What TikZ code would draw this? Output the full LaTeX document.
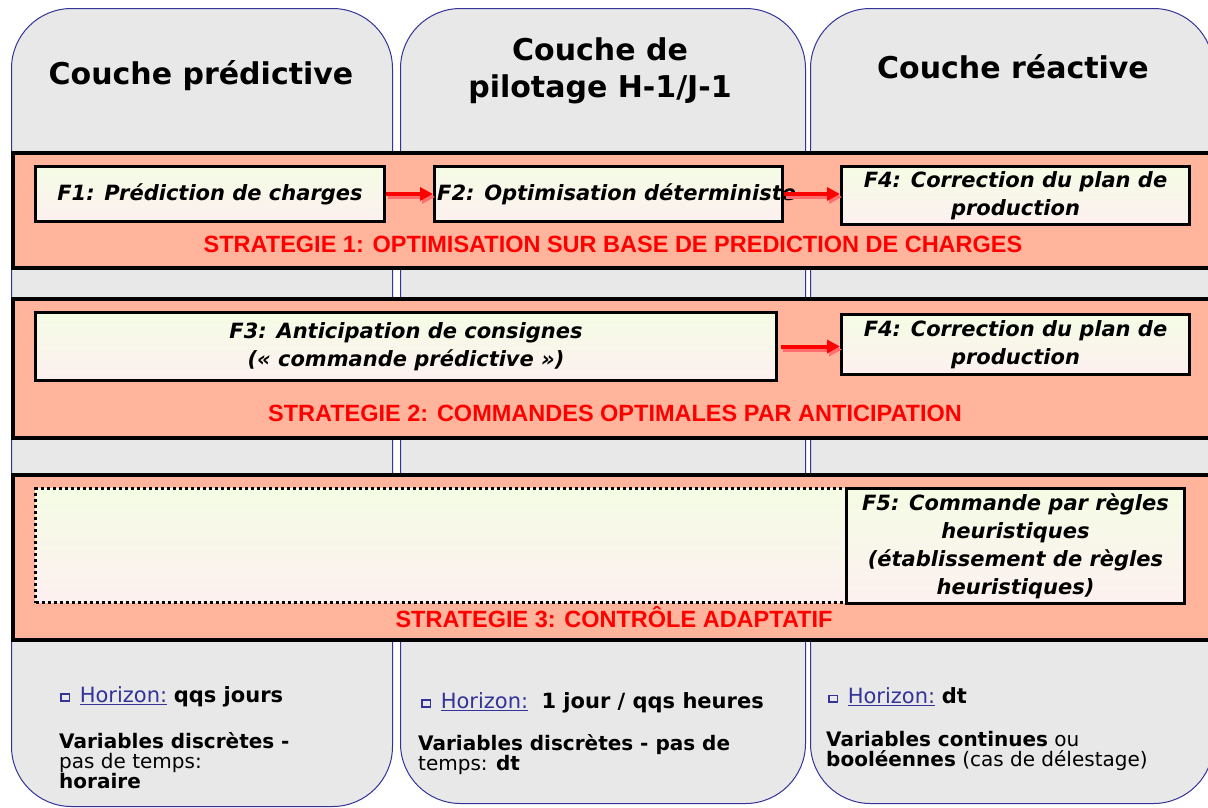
\documentclass[tikz,border=0pt]{standalone}
\usepackage{fontspec}
\setmainfont{DejaVu Sans}
\newfontfamily\stratfont{Liberation Sans}
\usetikzlibrary{arrows.meta}
\definecolor{colgray}{RGB}{232,232,232}
\definecolor{colblue}{RGB}{51,51,153}
\definecolor{bandfill}{RGB}{255,180,155}
\definecolor{boxtop}{RGB}{244,252,228}
\definecolor{boxbot}{RGB}{253,240,240}
\definecolor{arrowred}{RGB}{255,0,0}
\definecolor{arrowshadow}{RGB}{255,110,110}
\definecolor{stratred}{RGB}{255,0,0}
\tikzset{
  colbox/.style={draw=colblue, line width=1pt, fill=colgray, rounded corners=60pt, inner sep=0pt, anchor=north west},
  band/.style={draw=black, line width=4pt, fill=bandfill, inner sep=0pt, anchor=north west},
  fbox/.style={draw=black, line width=3pt, top color=boxtop, bottom color=boxbot, inner sep=0pt, anchor=north west},
  dotbox/.style={draw=black, line width=3pt, dash pattern=on 3pt off 3pt, top color=boxtop, bottom color=boxbot, inner sep=0pt, anchor=north west},
  hdr/.style={font=\fontsize{30}{37}\selectfont\bfseries, align=center, inner sep=0pt},
  ftxt/.style={font=\fontsize{21}{28}\selectfont\bfseries\itshape, align=center, inner sep=0pt},
  strat/.style={font=\fontsize{23.5}{27}\selectfont\stratfont\bfseries, text=stratred, inner sep=0pt},
  btxt/.style={font=\fontsize{20}{20}\selectfont, align=left, inner sep=0pt, anchor=west},
  htxt/.style={font=\fontsize{21}{21}\selectfont, inner sep=0pt, anchor=west},
  redarrow/.style={draw=arrowred, line width=4pt, -{Triangle[length=13pt,width=13pt]}},
  shadowarrow/.style={draw=arrowshadow, line width=4pt, -{Triangle[length=13pt,width=13pt]}},
}
\newcommand{\hzbullet}{{\color{colblue}\fboxrule=1.3pt\fboxsep=0pt\raisebox{2.5pt}{\fbox{\rule{0pt}{5.5pt}\hspace{7pt}}}}}
\newcommand{\hz}{\hzbullet\hspace{10pt}\textcolor{colblue}{\underline{Horizon:}}}
\begin{document}
\begin{tikzpicture}[x=1pt,y=-1pt]
\useasboundingbox (0,0) rectangle (1208,807);
\clip (0,0) rectangle (1208,807);
% columns
\node[colbox, minimum width=381pt, minimum height=798pt] (c1) at (11,8) {};
\node[colbox, minimum width=405pt, minimum height=795pt] (c2) at (400,8) {};
\node[colbox, minimum width=403pt, minimum height=795pt] (c3) at (810,8) {};
% headers
\node[hdr] (h1) at (201,76) {Couche prédictive};
\node[hdr] (h2) at (600,71) {Couche de\\pilotage H-1/J-1};
\node[hdr] (h3) at (1013,67) {Couche réactive};
% bands
\node[band, minimum width=1220pt, minimum height=115pt] (b1) at (11,151) {};
\node[band, minimum width=1220pt, minimum height=139pt] (b2) at (11,297) {};
\node[band, minimum width=1220pt, minimum height=165pt] (b3) at (11,473) {};
% strategy 1
\node[fbox, minimum width=349pt, minimum height=55pt] (f1) at (34,165) {};
\node[ftxt] (t1) at (f1.center) {F1: Prédiction de charges};
\node[fbox, minimum width=348pt, minimum height=55pt] (f2) at (433,165) {};
\node[ftxt, anchor=west] (t2) at ([xshift=4pt]f2.west) {F2: Optimisation déterministe};
\node[fbox, minimum width=348pt, minimum height=58pt] (f4a) at (840,165) {};
\node[ftxt] (t4a) at (f4a.center) {F4: Correction du plan de\\production};
\draw[shadowarrow] ([xshift=2pt,yshift=-3pt]f1.east) -- ([xshift=2pt,yshift=-3pt]f2.west);
\draw[redarrow] (f1.east) -- (f2.west);
\draw[shadowarrow] ([xshift=2pt,yshift=-3pt]f2.east) -- ([xshift=2pt,yshift=-3pt]f2.east -| f4a.west);
\draw[redarrow] (f2.east) -- (f2.east -| f4a.west);
\node[strat] (s1) at (613,244) {STRATEGIE 1: OPTIMISATION SUR BASE DE PREDICTION DE CHARGES};
% strategy 2
\node[fbox, minimum width=741pt, minimum height=68pt] (f3) at (34,311) {};
\node[ftxt] (t3) at (f3.center) {F3: Anticipation de consignes\\(« commande prédictive »)};
\node[fbox, minimum width=348pt, minimum height=60pt] (f4b) at (840,313) {};
\node[ftxt] (t4b) at (f4b.center) {F4: Correction du plan de\\production};
\coordinate (a3s) at ([xshift=3pt]f3.east);
\draw[shadowarrow] ([xshift=2pt,yshift=-3pt]a3s) -- ([xshift=2pt,yshift=-3pt]a3s -| f4b.west);
\draw[redarrow] (a3s) -- (a3s -| f4b.west);
\node[strat] (s2) at (615,413) {STRATEGIE 2: COMMANDES OPTIMALES PAR ANTICIPATION};
% strategy 3
\node[dotbox, minimum width=811pt, minimum height=114pt] (fd) at (34,487) {};
\node[fbox, minimum width=338pt, minimum height=115pt] (f5) at (845,487) {};
\node[ftxt] (t5) at (f5.center) {F5: Commande par règles\\heuristiques\\(établissement de règles\\heuristiques)};
\node[strat] (s3) at (614,617) {STRATEGIE 3: CONTRÔLE ADAPTATIF};
% bottom texts
\node[htxt] (hz1) at (60,697) {\hz\ \textbf{qqs jours}};
\node[btxt] (v1) at (59,761) {\textbf{Variables discrètes -}\\pas de temps:\\\textbf{horaire}};
\node[htxt] (hz2) at (421,703) {\hz\ \ \textbf{1 jour / qqs heures}};
\node[btxt] (v2) at (418,755) {\textbf{Variables discrètes - pas de}\\temps: \textbf{dt}};
\node[htxt] (hz3) at (828,697) {\hz\ \textbf{dt}};
\node[btxt] (v3) at (826,751) {\textbf{Variables continues} ou\\\textbf{booléennes} (cas de délestage)};
\end{tikzpicture}
\end{document}
